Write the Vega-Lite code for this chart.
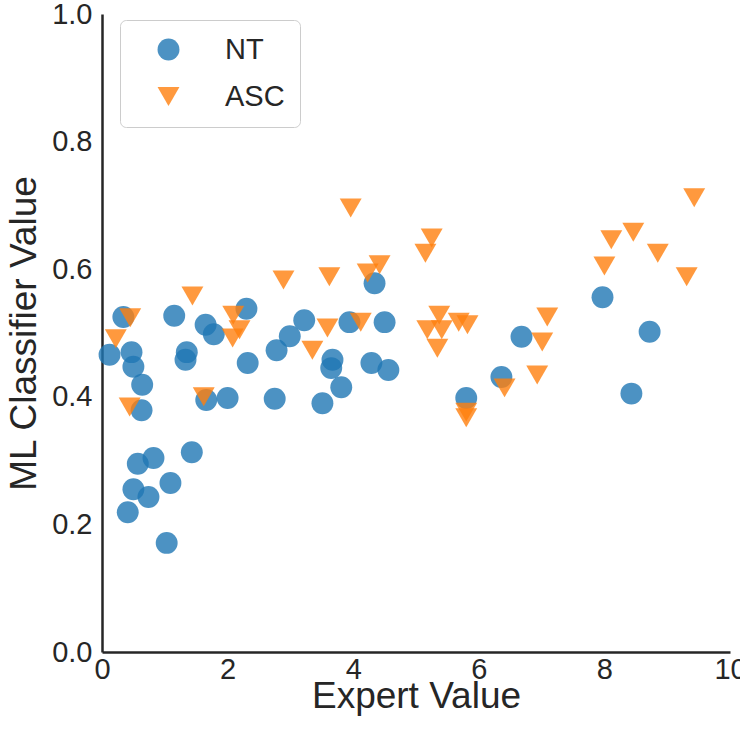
{
  "$schema": "https://vega.github.io/schema/vega-lite/v6.json",
  "width": 628,
  "height": 638,
  "autosize": {"type": "none"},
  "padding": {"left": 102, "top": 14, "right": 10, "bottom": 82},
  "background": "white",
  "config": {
    "view": {"stroke": null},
    "font": "Liberation Sans",
    "axis": {
      "grid": false,
      "ticks": false,
      "labelFlush": false,
      "domainColor": "#262626",
      "domainWidth": 2.5,
      "labelFont": "Liberation Sans",
      "titleFont": "Liberation Sans",
      "labelColor": "#262626",
      "titleColor": "#262626",
      "labelFontSize": 29,
      "titleFontSize": 37,
      "titleFontWeight": "normal"
    },
    "legend": {
      "padding": 15,
      "strokeColor": "#cccccc",
      "cornerRadius": 6,
      "fillColor": "white",
      "labelFont": "Liberation Sans",
      "labelColor": "#262626",
      "labelFontSize": 29,
      "symbolSize": 480,
      "symbolOpacity": 0.8,
      "symbolStrokeWidth": 0,
      "rowPadding": 17
    }
  },
  "data": {
    "values": [
      {"expert": 0.12, "ml": 0.466, "group": "NT"},
      {"expert": 0.34, "ml": 0.525, "group": "NT"},
      {"expert": 0.47, "ml": 0.470, "group": "NT"},
      {"expert": 0.50, "ml": 0.447, "group": "NT"},
      {"expert": 0.64, "ml": 0.419, "group": "NT"},
      {"expert": 0.63, "ml": 0.379, "group": "NT"},
      {"expert": 0.57, "ml": 0.295, "group": "NT"},
      {"expert": 0.82, "ml": 0.304, "group": "NT"},
      {"expert": 0.50, "ml": 0.255, "group": "NT"},
      {"expert": 0.74, "ml": 0.243, "group": "NT"},
      {"expert": 0.41, "ml": 0.219, "group": "NT"},
      {"expert": 1.09, "ml": 0.265, "group": "NT"},
      {"expert": 1.43, "ml": 0.313, "group": "NT"},
      {"expert": 1.03, "ml": 0.171, "group": "NT"},
      {"expert": 1.15, "ml": 0.527, "group": "NT"},
      {"expert": 1.35, "ml": 0.470, "group": "NT"},
      {"expert": 1.33, "ml": 0.458, "group": "NT"},
      {"expert": 1.65, "ml": 0.513, "group": "NT"},
      {"expert": 1.78, "ml": 0.498, "group": "NT"},
      {"expert": 1.66, "ml": 0.395, "group": "NT"},
      {"expert": 2.00, "ml": 0.398, "group": "NT"},
      {"expert": 2.30, "ml": 0.538, "group": "NT"},
      {"expert": 2.32, "ml": 0.453, "group": "NT"},
      {"expert": 2.75, "ml": 0.397, "group": "NT"},
      {"expert": 2.78, "ml": 0.473, "group": "NT"},
      {"expert": 2.99, "ml": 0.495, "group": "NT"},
      {"expert": 3.22, "ml": 0.520, "group": "NT"},
      {"expert": 3.51, "ml": 0.390, "group": "NT"},
      {"expert": 3.67, "ml": 0.458, "group": "NT"},
      {"expert": 3.65, "ml": 0.445, "group": "NT"},
      {"expert": 3.81, "ml": 0.415, "group": "NT"},
      {"expert": 3.94, "ml": 0.517, "group": "NT"},
      {"expert": 4.34, "ml": 0.578, "group": "NT"},
      {"expert": 4.29, "ml": 0.453, "group": "NT"},
      {"expert": 4.50, "ml": 0.517, "group": "NT"},
      {"expert": 4.56, "ml": 0.442, "group": "NT"},
      {"expert": 5.80, "ml": 0.398, "group": "NT"},
      {"expert": 6.36, "ml": 0.431, "group": "NT"},
      {"expert": 6.68, "ml": 0.494, "group": "NT"},
      {"expert": 7.97, "ml": 0.556, "group": "NT"},
      {"expert": 8.43, "ml": 0.405, "group": "NT"},
      {"expert": 8.72, "ml": 0.502, "group": "NT"},
      {"expert": 0.22, "ml": 0.491, "group": "ASC"},
      {"expert": 0.45, "ml": 0.524, "group": "ASC"},
      {"expert": 0.44, "ml": 0.384, "group": "ASC"},
      {"expert": 1.44, "ml": 0.558, "group": "ASC"},
      {"expert": 1.62, "ml": 0.400, "group": "ASC"},
      {"expert": 2.09, "ml": 0.528, "group": "ASC"},
      {"expert": 2.19, "ml": 0.505, "group": "ASC"},
      {"expert": 2.08, "ml": 0.492, "group": "ASC"},
      {"expert": 2.89, "ml": 0.583, "group": "ASC"},
      {"expert": 3.35, "ml": 0.473, "group": "ASC"},
      {"expert": 3.62, "ml": 0.588, "group": "ASC"},
      {"expert": 3.59, "ml": 0.508, "group": "ASC"},
      {"expert": 3.96, "ml": 0.696, "group": "ASC"},
      {"expert": 4.12, "ml": 0.517, "group": "ASC"},
      {"expert": 4.23, "ml": 0.594, "group": "ASC"},
      {"expert": 4.42, "ml": 0.607, "group": "ASC"},
      {"expert": 5.15, "ml": 0.625, "group": "ASC"},
      {"expert": 5.25, "ml": 0.649, "group": "ASC"},
      {"expert": 5.37, "ml": 0.528, "group": "ASC"},
      {"expert": 5.18, "ml": 0.505, "group": "ASC"},
      {"expert": 5.41, "ml": 0.505, "group": "ASC"},
      {"expert": 5.34, "ml": 0.476, "group": "ASC"},
      {"expert": 5.68, "ml": 0.517, "group": "ASC"},
      {"expert": 5.82, "ml": 0.513, "group": "ASC"},
      {"expert": 5.80, "ml": 0.376, "group": "ASC"},
      {"expert": 5.80, "ml": 0.367, "group": "ASC"},
      {"expert": 6.41, "ml": 0.414, "group": "ASC"},
      {"expert": 6.93, "ml": 0.434, "group": "ASC"},
      {"expert": 7.01, "ml": 0.486, "group": "ASC"},
      {"expert": 7.09, "ml": 0.525, "group": "ASC"},
      {"expert": 8.00, "ml": 0.605, "group": "ASC"},
      {"expert": 8.11, "ml": 0.646, "group": "ASC"},
      {"expert": 8.46, "ml": 0.658, "group": "ASC"},
      {"expert": 8.85, "ml": 0.625, "group": "ASC"},
      {"expert": 9.31, "ml": 0.588, "group": "ASC"},
      {"expert": 9.43, "ml": 0.712, "group": "ASC"}
    ]
  },
  "mark": {"type": "point", "filled": true, "opacity": 0.8, "size": 480, "strokeWidth": 0},
  "encoding": {
    "x": {
      "field": "expert", "type": "quantitative", "title": "Expert Value",
      "scale": {"domain": [0, 10], "nice": false, "zero": false},
      "axis": {"values": [0, 2, 4, 6, 8, 10], "format": "d", "labelPadding": 3, "titlePadding": -6}
    },
    "y": {
      "field": "ml", "type": "quantitative", "title": "ML Classifier Value",
      "scale": {"domain": [0, 1], "nice": false},
      "axis": {"values": [0, 0.2, 0.4, 0.6, 0.8, 1.0], "format": ".1f", "titlePadding": 8, "labelPadding": 10}
    },
    "color": {
      "field": "group", "type": "nominal",
      "scale": {"domain": ["NT", "ASC"], "range": ["#1f77b4", "#ff7f0e"]},
      "legend": {"title": null, "orient": "none", "legendX": 18, "legendY": 6, "symbolOffset": 19, "labelOffset": 42}
    },
    "shape": {
      "field": "group", "type": "nominal",
      "scale": {"domain": ["NT", "ASC"], "range": ["circle", "triangle-down"]},
      "legend": {"title": null, "orient": "none", "legendX": 18, "legendY": 6, "symbolOffset": 19, "labelOffset": 42}
    }
  }
}
